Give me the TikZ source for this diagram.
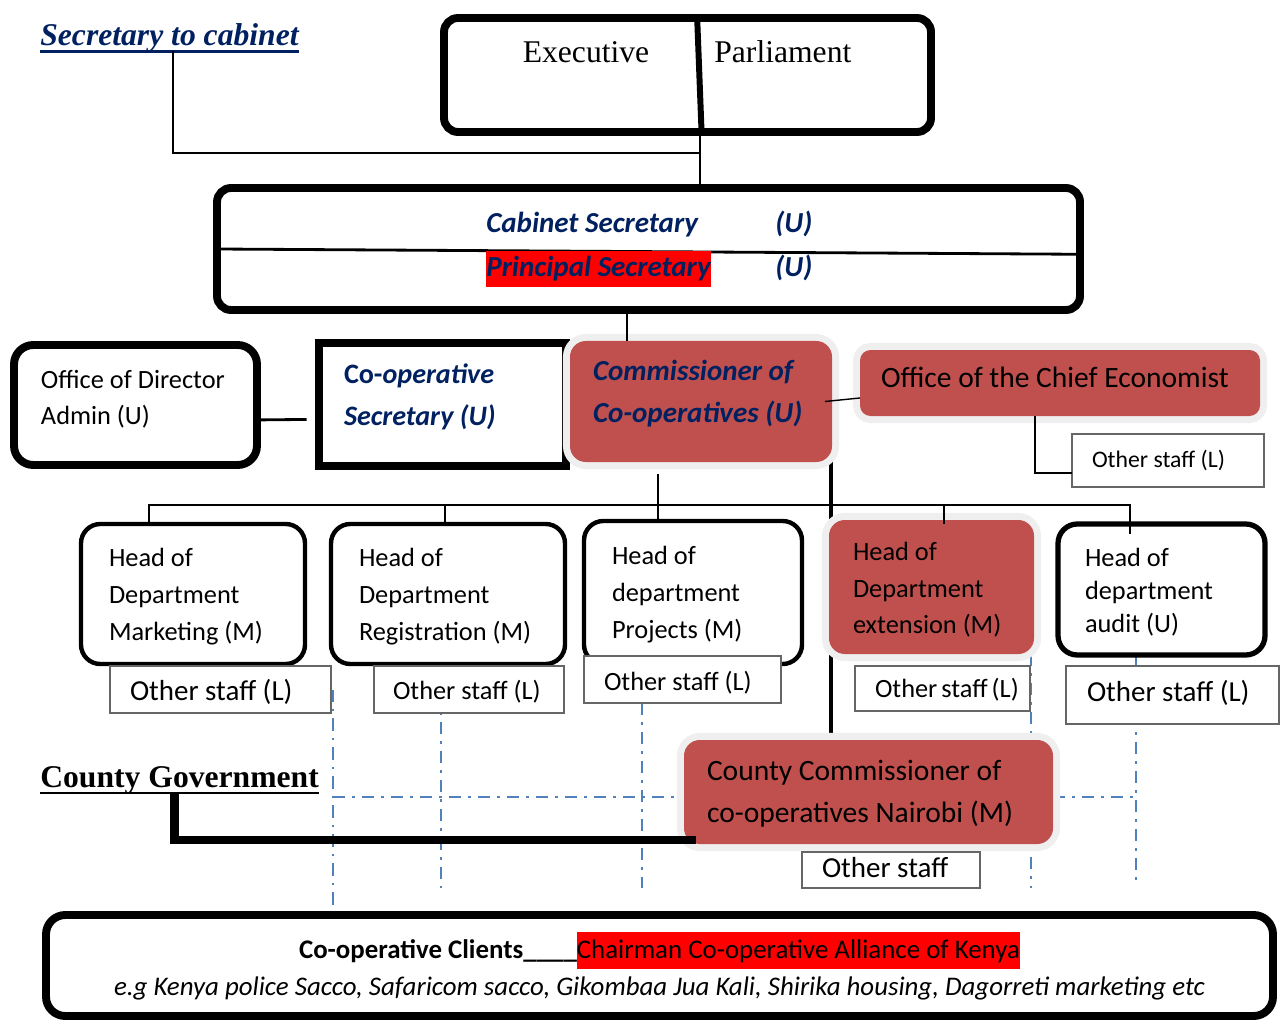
\documentclass[tikz,border=0pt]{standalone}
\usepackage{fontspec}
\setmainfont{Carlito}
\newfontfamily\timesfont{Liberation Serif}
\usetikzlibrary{backgrounds}
\definecolor{navy}{HTML}{002060}
\definecolor{brick}{HTML}{C0504D}
\definecolor{glow}{HTML}{EFEFEF}
\definecolor{dashblue}{HTML}{4F81BD}
\definecolor{hilite}{HTML}{FF0000}
\hyphenpenalty=10000
\exhyphenpenalty=10000
\newcommand{\fs}[2]{\fontsize{#1}{#2}\selectfont}
\newcommand{\hl}[1]{{\setlength{\fboxsep}{0pt}\colorbox{hilite}{\strut #1}}}
\newcommand{\tstrut}[1]{\rule{0pt}{#1}}
\newcommand{\bstrut}[1]{\rule[-#1]{0pt}{#1}}

\tikzset{
  box/.code n args={3}{%
    \pgfmathsetmacro\boxw{#1*0.02}\pgfmathsetmacro\boxh{#2*0.02}%
    \pgfmathsetmacro\boxx{#3*0.02}\pgfmathsetmacro\boxtw{(#1-2*#3)*0.02}%
    \edef\next{\noexpand\tikzset{minimum width=\boxw cm, minimum height=\boxh cm,
      inner xsep=\boxx cm, inner ysep=0pt, text width=\boxtw cm, align=flush left, outer sep=0pt}}\next},
  lbl/.style={inner sep=0pt},
  heavybox/.style={draw, line width=4.5pt, rounded corners=8pt},
  headbox/.style={draw, line width=2.5pt, rounded corners=11pt, fill=white, font=\fs{15}{21}},
  redbox/.style={fill=brick, rounded corners=9pt, preaction={draw=glow, line width=8pt}},
  staffbox/.style={draw=black!60, line width=0.6pt, fill=white, font=\fs{15}{18}},
  link/.style={line width=0.8pt},
  dashdot/.style={draw=dashblue, line width=1.1pt, dash pattern=on 7pt off 4pt on 1.5pt off 4pt},
}

\begin{document}
\begin{tikzpicture}[x=0.02cm, y=-0.02cm]
\useasboundingbox (0,0) rectangle (1280,1020);

% national level
\node[lbl, anchor=base west, text=navy, font=\timesfont\fs{18}{22}\bfseries\itshape] (sec) at (40,46) {Secretary to cabinet};
\draw[navy, line width=1.6pt] ([yshift=-3pt]sec.base west) -- ([yshift=-3pt]sec.base east);
\node[heavybox, box={487}{114}{0}] (gov) at (687.5,75) {};
\node[lbl, anchor=base, font=\timesfont\fs{18}{22}] (exe) at (586,63) {Executive};
\node[lbl, anchor=base west, font=\timesfont\fs{18}{22}] (parl) at (714,63) {Parliament};
\draw[line width=3.4pt] ([xshift=5.5pt]gov.north) -- ([xshift=8pt]gov.south);

\node[heavybox, box={863}{122}{0}] (cab) at (648.5,249) {};
\draw[line width=1.6pt] (cab.west) -- ([yshift=-3pt]cab.east);
\node[lbl, anchor=base west, text=navy, font=\fs{16.5}{20}\bfseries\itshape] (cabsec) at (486,233) {Cabinet Secretary};
\node[lbl, anchor=base west, text=navy, font=\fs{16.5}{20}\bfseries\itshape] (cabu) at (775,233) {(U)};
\node[lbl, anchor=base west, text=navy, font=\fs{16.5}{20}\bfseries\itshape] (prin) at (486,276) {\hl{Principal Secretary}};
\node[lbl, anchor=base west, text=navy, font=\fs{16.5}{20}\bfseries\itshape] (prinu) at (775,276) {(U)};

\coordinate (j1) at (700,153);
\draw[link] ([xshift=2pt,yshift=-3pt]sec.base) |- (j1);
\draw[link] (gov.south -| j1) -- (cab.north -| j1);

% ministry
\node[heavybox, rounded corners=11pt, box={243}{120}{27}, font=\fs{15}{21}] (dir) at (135.5,405) {\tstrut{12.7pt}Office~of~Director\\Admin~(U)\bstrut{11pt}};
\node[draw, line width=4.5pt, box={247}{123}{25}, text=navy, font=\fs{16}{24}\bfseries] (cosec) at (442.5,404.5) {\tstrut{13.6pt}Co-\textit{operative}\\\textit{Secretary~(U)}\bstrut{14pt}};
\node[redbox, box={262}{121}{23}, text=navy, font=\fs{16.5}{24}\bfseries\itshape] (com) at (701,401.5) {\tstrut{14.2pt}Commissioner~of\\Co-operatives~(U)\bstrut{14pt}};
\node[redbox, rounded corners=6pt, box={400}{66}{21}, font=\fs{16.8}{20}] (econ) at (1060,383) {\tstrut{12.6pt}Office~of~the~Chief~Economist\bstrut{7pt}};
\node[staffbox, box={192}{53}{20}, font=\fs{13.5}{16}] (st0) at (1168,460.5) {Other~staff~(L)};

\coordinate (c2) at (627,0);
\coordinate (e1) at (1035,473);
\draw[line width=1.6pt] ([yshift=-8.5pt]dir.east) -- ([yshift=-8.5pt,xshift=-7pt]cosec.west);
\draw[link] (cab.south -| c2) -- (com.north -| c2);
\draw[link] ([xshift=-4pt]com.east) -- ([yshift=2pt]econ.west |- com.east);
\draw[link] (econ.south -| e1) |- (st0.west |- e1);

% departments
\node[headbox, box={224}{140}{28}] (mkt) at (193,594) {\tstrut{16.8pt}Head~of\\Department\\Marketing~(M)\bstrut{6pt}};
\node[headbox, box={234}{140}{28}] (reg) at (448,594) {\tstrut{16.8pt}Head~of\\Department\\Registration~(M)\bstrut{6pt}};
\node[headbox, box={218}{143}{28}] (proj) at (693,592.5) {\tstrut{16.2pt}Head~of\\department\\Projects~(M)\bstrut{6pt}};
\node[redbox, box={205}{134}{24}, font=\fs{15}{21}] (ext) at (931.5,587) {\tstrut{17.4pt}Head~of\\Department\\extension~(M)\bstrut{6pt}};
\node[headbox, line width=3pt, box={207}{131}{27}, font=\fs{15}{18.7}] (aud) at (1161.5,589.5) {\tstrut{17.6pt}Head~of\\department\\audit~(U)\bstrut{6pt}};

\node[staffbox, box={221}{47}{20}, font=\fs{16.5}{20}] (st1) at (220.5,689.5) {\tstrut{17pt}Other~staff~(L)\bstrut{5pt}};
\node[staffbox, box={190}{47}{19}] (st2) at (469,689.5) {\tstrut{16.4pt}Other~staff~(L)\bstrut{5pt}};
\node[staffbox, box={197}{47}{20}] (st3) at (682.5,679.5) {\tstrut{17pt}Other~staff~(L)\bstrut{5pt}};
\node[staffbox, box={175}{45}{20}] (st4) at (942.5,688.5) {\tstrut{15.8pt}Other~staff~(L)\bstrut{5pt}};
\node[staffbox, box={213}{58}{21}, font=\fs{16.5}{20}] (st5) at (1172.5,695) {\tstrut{13.6pt}Other~staff~(L)\bstrut{6pt}};

\coordinate (d1) at (149,505);
\coordinate (d2) at (445,505);
\coordinate (d3) at (658,505);
\coordinate (d4) at (944,505);
\coordinate (d5) at (1130,505);
\draw[link] (mkt.north -| d1) -- (d1) -- (d5) -- ([yshift=-5.5pt]aud.north -| d5);
\draw[link] (reg.north -| d2) -- (d2);
\draw[link] ([yshift=-7pt]com.south -| d3) -- (proj.north -| d3);
\draw[link] (d4) -- ([yshift=-2pt]ext.north -| d4);

% county level
\node[lbl, anchor=base west, font=\timesfont\fs{18}{22}\bfseries] (cg) at (40,787) {County Government};
\draw[line width=1.6pt] ([yshift=-3.4pt]cg.base west) -- ([yshift=-3.4pt]cg.base east);
\node[redbox, box={369}{104}{23}, font=\fs{16.8}{24}] (ccom) at (868.5,792) {\tstrut{15.4pt}County~Commissioner~of\\co-operatives~Nairobi~(M)\bstrut{5pt}};
\node[staffbox, box={178}{36}{20}, font=\fs{16.5}{20}] (st6) at (891,870) {\tstrut{14pt}Other~staff\bstrut{5pt}};

\coordinate (k1) at (0,840);
\draw[line width=5pt] ([xshift=-3pt]cg.south) |- ([xshift=7pt]ccom.west |- k1);

% clients
\node[heavybox, rounded corners=11pt, box={1227}{101}{0}, align=flush center, font=\fs{15.3}{21}] (cl) at (659.5,965.5)
  {\tstrut{17.8pt}\textbf{Co-operative Clients\_\_\_\_}\hl{Chairman Co-operative Alliance of Kenya}\\
   \textit{e.g Kenya police Sacco, Safaricom sacco, Gikombaa Jua Kali, Shirika housing, Dagorreti marketing etc}\bstrut{5pt}};

\begin{pgfonlayer}{background}
  \coordinate (v1) at (831,0);
  \draw[line width=2.8pt] (com.south -| v1) -- (ccom.north -| v1);
  \coordinate (b1) at (333,797);
  \coordinate (b2) at (441,888);
  \coordinate (b3) at (642,888);
  \coordinate (b4) at (1031,888);
  \coordinate (b5) at (1136,882);
  \draw[dashdot] (st1.east -| b1) -- (cl.north -| b1);
  \draw[dashdot] (b1) -- (ccom.west |- b1);
  \draw[dashdot] (ccom.east |- b1) -- (b5 |- b1);
  \draw[dashdot] (reg.south -| b2) -- (b2);
  \draw[dashdot] (st3.south -| b3) -- (b3);
  \draw[dashdot] (ext.south -| b4) -- (b4);
  \draw[dashdot] (aud.south -| b5) -- (b5);
\end{pgfonlayer}
\end{tikzpicture}
\end{document}
